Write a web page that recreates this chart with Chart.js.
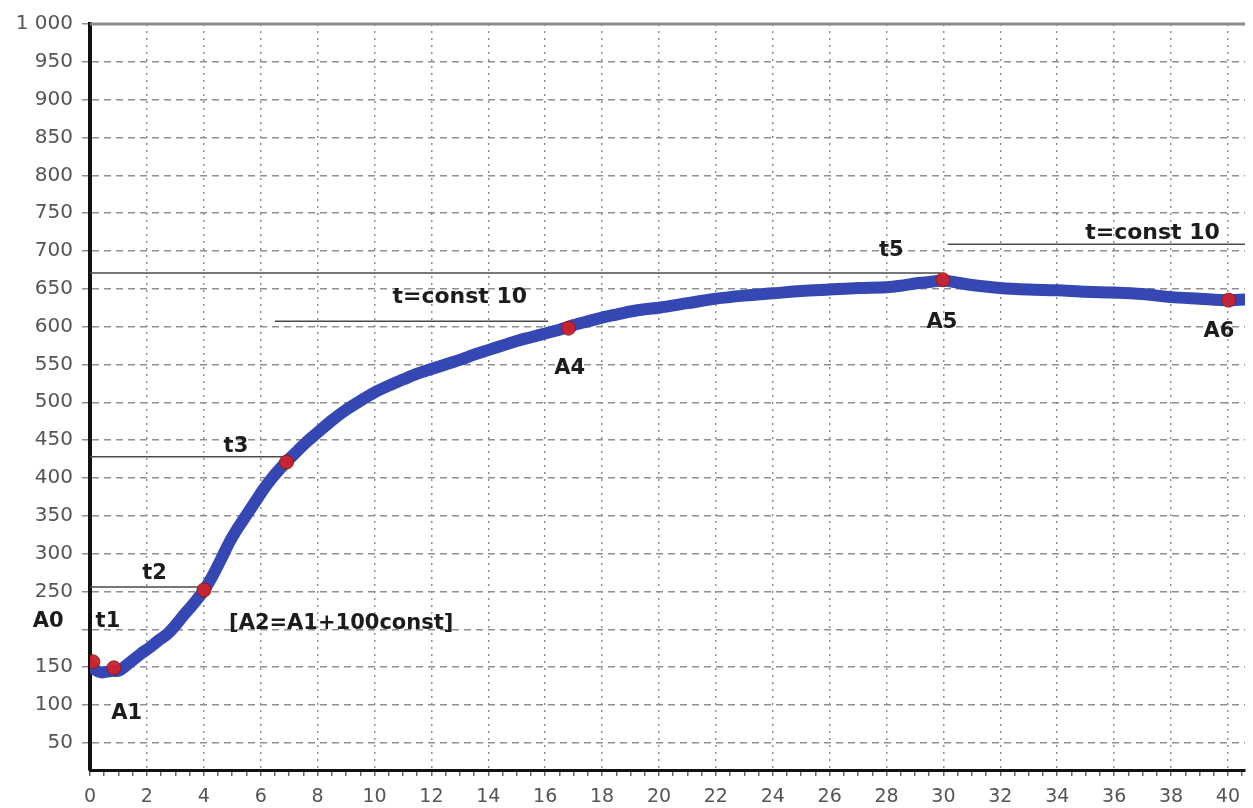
<!DOCTYPE html>
<html>
<head>
<meta charset="utf-8">
<script src="https://cdn.jsdelivr.net/npm/chart.js@4.4.1/dist/chart.umd.min.js"></script>
<style>
    body { margin: 0; background: #fff; }
</style>
</head>
<body>
<canvas id="myChart" width="1253" height="808"></canvas>
<script>
// curve (time, value)
const curveX = [0, 0.2, 0.4, 0.6, 0.8, 1.0, 1.2, 1.5, 1.8, 2.1, 2.4, 2.7, 3.0, 3.3, 3.6, 3.9, 4.0,
    4.3, 4.6, 4.9, 5.2, 5.5, 5.8, 6.1, 6.4, 6.7, 7.0, 7.3, 7.6, 8.0, 8.5, 9.0, 9.5, 10.0,
    10.5, 11.0, 11.5, 12.0, 12.5, 13.0, 13.5, 14.0, 14.5, 15.0, 15.5, 16.0, 16.5, 17.0,
    17.5, 18.0, 18.5, 19.0, 19.5, 20.0, 21.0, 22.0, 23.0, 24.0, 25.0, 26.0, 27.0, 28.0,
    28.5, 29.0, 29.5, 30.0, 30.5, 31.0, 32.0, 33.0, 34.0, 35.0, 36.0, 37.0, 38.0, 39.0, 40.0, 40.6];
const curveY = [155, 146, 143, 144, 145, 145, 150, 159, 168, 176, 185, 193, 205, 219, 232, 246, 251,
    270, 292, 315, 334, 351, 368, 385, 400, 413, 425, 436, 447, 460, 476, 490, 502, 513,
    522, 530, 538, 544, 550, 556, 563, 569, 575, 581, 586, 591, 596, 602,
    607, 612, 616, 620, 623, 625, 631, 637, 641, 644, 647, 649, 651, 652,
    654, 657, 659, 661, 658, 655, 651, 649, 648, 646, 645, 643, 639, 637, 635, 636];

// marked points A0..A6
const pointX = [0.1, 0.84, 4.01, 6.91, 16.82, 29.98, 40.03];
const pointY = [157, 149, 252, 421, 598, 662, 635];

// thin horizontal guide lines: [xStart, xEnd, level]
const guideLines = [
    [0, 4.0, 256],
    [0, 6.85, 428],
    [0, 29.9, 671],
    [6.5, 16.1, 607],
    [30.15, 40.6, 709]
];

// text notes: [text, x, y, size]
const notes = [
    ['A0', -1.47, 210, 21],
    ['t1', 0.63, 210, 21],
    ['A1', 1.29, 89, 21],
    ['t2', 2.27, 274, 21],
    ['[A2=A1+100const]', 8.83, 207, 21],
    ['t3', 5.13, 441, 21],
    ['t=const 10', 13.0, 639, 22],
    ['A4', 16.86, 544, 21],
    ['t5', 28.17, 701, 21],
    ['A5', 29.95, 606, 21],
    ['t=const 10', 37.35, 724, 22],
    ['A6', 39.68, 593, 21]
];

const xMin = 0, xMax = 40.6;
const yMin = 14, yMax = 1000;

function toPoints(xs, ys) {
    return xs.map((x, i) => ({ x: x, y: ys[i] }));
}

const datasets = [];

datasets.push({
    data: toPoints(pointX, pointY),
    showLine: false,
    pointRadius: 7,
    pointBackgroundColor: 'rgba(205, 35, 45, 0.95)',
    pointBorderColor: '#8c1c22',
    pointBorderWidth: 1,
    order: 0
});

datasets.push({
    data: toPoints(curveX, curveY),
    borderColor: '#3447b3',
    borderWidth: 12,
    borderCapStyle: 'round',
    borderJoinStyle: 'round',
    tension: 0.3,
    pointRadius: 0,
    order: 1
});

guideLines.forEach(g => {
    datasets.push({
        data: [{ x: g[0], y: g[2] }, { x: g[1], y: g[2] }],
        borderColor: '#4a4a4a',
        borderWidth: 1.5,
        pointRadius: 0,
        order: 2
    });
});

const notesPlugin = {
    id: 'notes',
    afterDatasetsDraw(chart) {
        const ctx = chart.ctx;
        const xs = chart.scales.x;
        const ys = chart.scales.y;
        const area = chart.chartArea;

        // top frame line
        ctx.save();
        ctx.strokeStyle = '#8c8c8c';
        ctx.lineWidth = 3;
        ctx.beginPath();
        ctx.moveTo(area.left, area.top);
        ctx.lineTo(area.right, area.top);
        ctx.stroke();

        ctx.fillStyle = '#1c1c1c';
        ctx.textAlign = 'center';
        ctx.textBaseline = 'middle';
        notes.forEach(n => {
            ctx.font = 'bold ' + n[3] + 'px "DejaVu Sans"';
            ctx.fillText(n[0], xs.getPixelForValue(n[1]), ys.getPixelForValue(n[2]));
        });
        ctx.restore();
    }
};

const ctx = document.getElementById('myChart').getContext('2d');

new Chart(ctx, {
    type: 'line',
    data: { datasets: datasets },
    options: {
        responsive: false,
        animation: false,
        devicePixelRatio: 1,
        layout: { padding: { top: 24, right: 0, bottom: 0, left: 0 } },
        plugins: {
            legend: { display: false },
            tooltip: { enabled: false }
        },
        scales: {
            x: {
                type: 'linear',
                min: xMin,
                max: xMax,
                afterFit: (scale) => { scale.height = 38; },
                ticks: {
                    stepSize: 0.5,
                    includeBounds: false,
                    autoSkip: false,
                    maxRotation: 0,
                    padding: 10,
                    color: '#555',
                    font: { family: 'DejaVu Sans', size: 19 },
                    callback: (v) => (v % 2 === 0 ? String(v) : '')
                },
                grid: {
                    color: (c) => (c.tick && c.tick.value % 2 === 0 ? '#8f8f8f' : 'rgba(0,0,0,0)'),
                    lineWidth: 1.5,
                    tickColor: '#666',
                    tickLength: 6
                },
                border: { color: '#111', width: 3, dash: [2, 5] }
            },
            y: {
                type: 'linear',
                min: yMin,
                max: yMax,
                afterFit: (scale) => { scale.width = 90; },
                ticks: {
                    stepSize: 50,
                    includeBounds: false,
                    padding: 9,
                    color: '#555',
                    font: { family: 'DejaVu Sans', size: 20 },
                    // the A0 note sits where the 200 label would be
                    callback: (v) => (v === 1000 ? '1 000' : (v === 200 ? '' : String(v)))
                },
                grid: {
                    color: '#8f8f8f',
                    lineWidth: 1.5,
                    tickColor: '#8f8f8f',
                    tickLength: 8
                },
                border: { color: '#111', width: 4, dash: [7, 5] }
            }
        }
    },
    plugins: [notesPlugin]
});
</script>
</body>
</html>
